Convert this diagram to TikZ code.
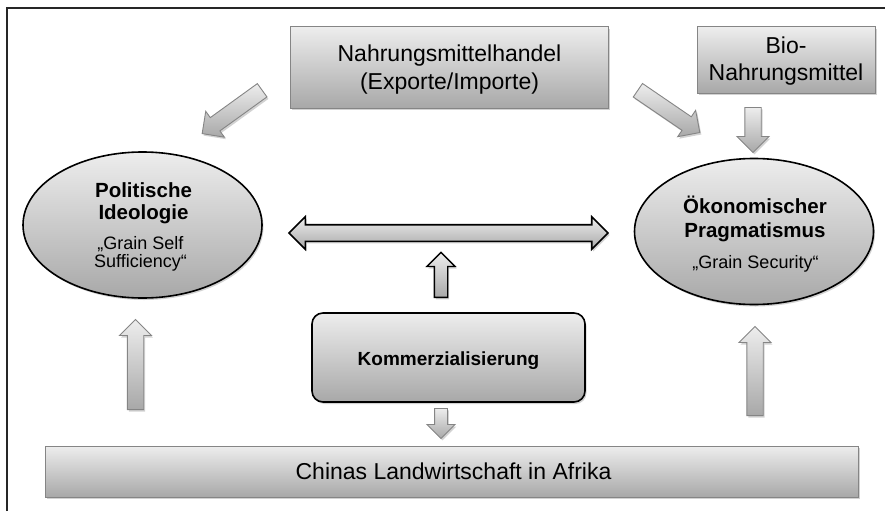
\documentclass[tikz,border=0pt]{standalone}
\usepackage{fontspec}
\setmainfont{Liberation Sans}
\usetikzlibrary{shapes.geometric,shapes.arrows,shadows}
\definecolor{boxtop}{HTML}{EDEDED}
\definecolor{boxbot}{HTML}{A8A8A8}
\definecolor{boxline}{HTML}{858585}
\tikzset{
  shd/.style={drop shadow={shadow xshift=1.5pt,shadow yshift=-2pt,opacity=0.35}},
  greybox/.style={rectangle,draw=boxline,line width=1pt,top color=boxtop,bottom color=boxbot,inner sep=0pt,shd},
  ovalnode/.style={ellipse,draw=black,line width=1.6pt,top color=boxtop,bottom color=boxbot,inner sep=0pt,minimum width=239pt,minimum height=146pt,shd},
  roundbox/.style={rectangle,rounded corners=11pt,draw=black,line width=1.6pt,top color=boxtop,bottom color=boxbot,inner sep=0pt,shd},
  garrow/.style={single arrow,draw=boxline,line width=0.9pt,top color=boxtop,bottom color=boxbot,
     inner xsep=0pt,inner ysep=7.75pt,single arrow head extend=7.75pt,single arrow tip angle=90,anchor=tail,shd},
  smallarrow/.style={single arrow,line width=1.3pt,top color=boxtop,bottom color=boxbot,
     inner xsep=0pt,inner ysep=6pt,single arrow head extend=7.5pt,single arrow tip angle=90,anchor=tail,shd},
  bigtxt/.style={font=\fontsize{23}{27}\selectfont,anchor=base},
  boldtxt/.style={font=\fontsize{20.5}{23}\selectfont\bfseries,anchor=base},
  komtxt/.style={font=\fontsize{19}{22}\selectfont\bfseries,anchor=base},
  smalltxt/.style={font=\fontsize{18}{19}\selectfont,anchor=base},
}
\begin{document}
\begin{tikzpicture}[x=1pt,y=-1pt]
\useasboundingbox (0,0) rectangle (885,511);
\fill[white] (0,0) rectangle (885,511);
\draw[line width=2pt,black!85] (7,511) -- (7,8) -- (885,8);

% boxes
\node[greybox,minimum width=318pt,minimum height=81pt] (trade) at (449,67.5) {};
\node[bigtxt] (trade1) at (449.5,62) {Nahrungsmittelhandel};
\node[bigtxt] (trade2) at (449.5,89) {(Exporte/Importe)};

\node[greybox,minimum width=178pt,minimum height=66pt] (bio) at (786,60) {};
\node[bigtxt] (bio1) at (786,54) {Bio-};
\node[bigtxt] (bio2) at (786,81) {Nahrungsmittel};

\node[ovalnode] (pol) at (142.5,225) {};
\node[boldtxt] (pol1) at (143.5,197) {Politische};
\node[boldtxt] (pol2) at (143.5,219) {Ideologie};
\node[smalltxt] (pol3) at (140.5,249) {„Grain Self};
\node[smalltxt] (pol4) at (140.5,267) {Sufficiency“};

\node[ovalnode] (oek) at (754,231.5) {};
\node[boldtxt] (oek1) at (755,213) {Ökonomischer};
\node[boldtxt] (oek2) at (755,237) {Pragmatismus};
\node[smalltxt] (oek3) at (755.5,268) {„Grain Security“};

\node[roundbox,minimum width=273pt,minimum height=89pt] (kom) at (448.5,357.5) {};
\node[komtxt] (kom1) at (448.5,365) {Kommerzialisierung};

\node[greybox,minimum width=813pt,minimum height=51pt] (afr) at (451.5,471.5) {};
\node[bigtxt] (afr1) at (453.5,479.5) {Chinas Landwirtschaft in Afrika};

% block arrows
\node[garrow,minimum height=74pt,rotate=215.85] (a1) at (262.5,90) {};
\node[garrow,minimum height=75pt,rotate=-34.3] (a2) at (637.5,90) {};
\node[garrow,minimum height=45pt,rotate=-90] (a3) at (753,107) {};
\node[garrow,minimum height=90pt,rotate=90] (a4) at (135.5,410) {};
\node[garrow,minimum height=89pt,rotate=90] (a5) at (755,416) {};
\node[smallarrow,draw=black,minimum height=45pt,rotate=90] (a6) at (441,298) {};
\node[smallarrow,draw=boxline,line width=0.9pt,minimum height=30pt,rotate=-90] (a7) at (441,408) {};
\node[double arrow,draw=black,line width=1.6pt,top color=boxtop,bottom color=boxbot,
  inner xsep=0pt,inner ysep=7.5pt,double arrow head extend=8pt,double arrow tip angle=90,
  minimum height=319pt,shd] (a8) at (448.5,233) {};
\end{tikzpicture}
\end{document}
